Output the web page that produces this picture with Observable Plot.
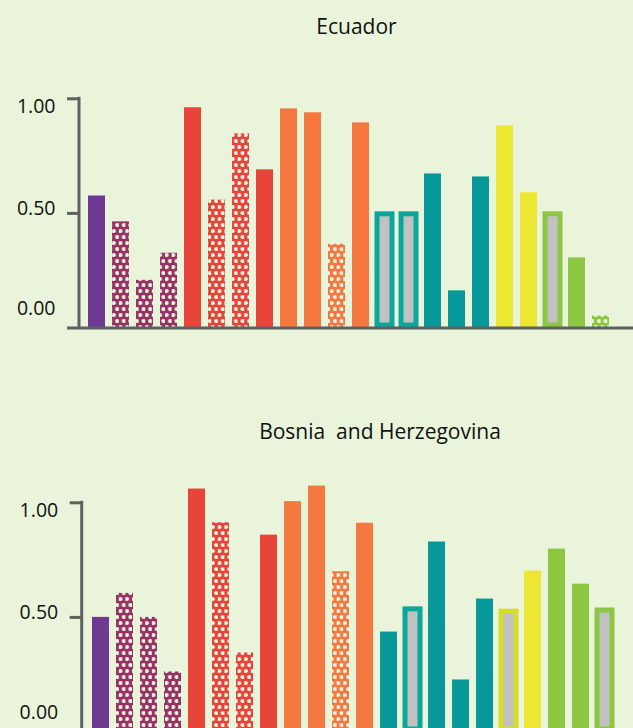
<!DOCTYPE html>
<html>
<head>
<meta charset="utf-8">
<script src="https://cdn.jsdelivr.net/npm/d3@7"></script>
<script src="https://cdn.jsdelivr.net/npm/@observablehq/plot@0.6"></script>
<style>
  html, body { margin: 0; padding: 0; background: #E9F4DA; overflow: hidden; }
  #wrap { position: relative; width: 633px; height: 728px; overflow: hidden; }
  .title { position: absolute; font-family: "Open Sans", sans-serif; font-size: 21px; line-height: 21px;
           color: #111; white-space: pre; transform: translateX(-50%); }
  .chart { position: absolute; left: 0; }
</style>
</head>
<body>
<svg width="0" height="0" style="position:absolute">
  <defs id="pattern-defs"></defs>
</svg>
<div id="wrap"></div>
<script>
// ---------------- data ----------------
const categories = ["1","2","3","4","5","6","7","8","9","10","11","12","13","14","15","16","17","18","19","20","21","22"];
const colorGroups = ["purple","maroon","maroon","maroon","red","red","red","red","orange","orange","orange","orange",
                     "teal","teal","teal","teal","teal","yellow","yellow","green","green","green"];
const countries = ["Ecuador", "Bosnia  and Herzegovina"];

const ecuadorValues = [0.576, 0.463, 0.208, 0.326, 0.961, 0.558, 0.847, 0.690, 0.956, 0.939, 0.365, 0.895,
                       0.507, 0.507, 0.672, 0.162, 0.659, 0.882, 0.590, 0.507, 0.306, 0.052];
const ecuadorKinds  = ["solid","dots","dots","dots","solid","dots","dots","solid","solid","solid","dots","solid",
                       "hollow","hollow","solid","solid","solid","solid","solid","hollow","solid","dots"];

const bosniaValues  = [0.500, 0.605, 0.500, 0.262, 1.060, 0.913, 0.345, 0.859, 1.005, 1.073, 0.699, 0.911,
                       0.436, 0.546, 0.829, 0.227, 0.580, 0.536, 0.702, 0.798, 0.645, 0.541];
const bosniaKinds   = ["solid","dots","dots","dots","solid","dots","dots","solid","solid","solid","dots","solid",
                       "solid","hollow","solid","solid","solid","hollow","solid","solid","solid","hollow"];

const yTicks = [0, 0.5, 1];
const yTickLabels = ["0.00", "0.50", "1.00"];

// ---------------- styles ----------------
const solidColor = {purple: "#6D3993", maroon: "#983264", red: "#E8443A", orange: "#F47840",
                    teal: "#07989A", yellow: "#ECE733", green: "#8DC641"};
const outlineColor = {teal: "#0AA79B", yellow: "#D5DD2B", green: "#8EC643"};
const axisColor = "#5F6062";
const dotColor = "#EDF5E0";

// patterns
const defs = document.getElementById("pattern-defs");
const NS = "http://www.w3.org/2000/svg";
for (const [g, c] of Object.entries(solidColor)) {
  const p = document.createElementNS(NS, "pattern");
  p.setAttribute("id", "dots-" + g);
  p.setAttribute("patternUnits", "userSpaceOnUse");
  p.setAttribute("width", 6.6);
  p.setAttribute("height", 12);
  const r = document.createElementNS(NS, "rect");
  r.setAttribute("width", 6.6); r.setAttribute("height", 12); r.setAttribute("fill", c);
  p.appendChild(r);
  for (const [cx, cy] of [[1.65, 3], [4.95, 9]]) {
    const ci = document.createElementNS(NS, "circle");
    ci.setAttribute("cx", cx); ci.setAttribute("cy", cy); ci.setAttribute("r", 2.05);
    ci.setAttribute("fill", dotColor);
    p.appendChild(ci);
  }
  defs.appendChild(p);
}

function axisLine(index, scales, values, dims) {
  const l = document.createElementNS(NS, "line");
  l.setAttribute("x1", dims.marginLeft);
  l.setAttribute("x2", dims.marginLeft);
  l.setAttribute("y1", scales.y(1) - 1.5);
  l.setAttribute("y2", scales.y(0));
  l.setAttribute("stroke", axisColor);
  l.setAttribute("stroke-width", 3);
  return l;
}

function drawChart(values, kinds, layout) {
  const data = categories.map((c, i) => ({cat: c, value: values[i], group: colorGroups[i], kind: kinds[i]}));
  const labelDy = [-19, -5, 7.5];
  return Plot.plot({
    width: 633,
    height: 360,
    marginLeft: layout.axisX,
    marginRight: 0,
    marginTop: 98.3,
    marginBottom: 32.5,
    style: {background: "transparent", overflow: "visible", fontFamily: "Open Sans", fontSize: "19.5px"},
    x: {domain: categories, range: layout.xRange, paddingInner: 0.3, paddingOuter: 0, axis: null},
    y: {domain: [0, 1], axis: null, label: null},
    color: {type: "identity"},
    marks: [
      Plot.barY(data.filter(d => d.kind === "solid"), {x: "cat", y: "value", fill: d => solidColor[d.group]}),
      Plot.barY(data.filter(d => d.kind === "dots"), {x: "cat", y: "value", fill: d => `url(#dots-${d.group})`}),
      Plot.barY(data.filter(d => d.kind === "hollow"), {
        x: "cat", y: "value", fill: "#C1C1C1", stroke: d => outlineColor[d.group], strokeWidth: 5,
        insetLeft: 1, insetRight: 1, insetTop: 2.5, insetBottom: 2.5
      }),
      Plot.ruleY([0], {stroke: axisColor, strokeWidth: 3}),
      axisLine,
      Plot.axisY(yTicks, {tickSize: 12, stroke: axisColor, strokeWidth: 3, tickFormat: () => "", label: null}),
      ...yTicks.map((t, i) => Plot.axisY([t], {
        tickSize: 0, tickPadding: 24, dy: labelDy[i], fill: "#111", label: null,
        fontSize: 19.5, fontFamily: "Open Sans", tickFormat: () => yTickLabels[i]
      }))
    ]
  });
}

const wrap = document.getElementById("wrap");
const layouts = [
  {top: 0, axisX: 79, xRange: [82.7, 613.9], titleX: 356.5, titleTop: 15.6},
  {top: 404.4, axisX: 81.7, xRange: [87, 617.5], titleX: 380, titleTop: 420.8}
];
const series = [[ecuadorValues, ecuadorKinds], [bosniaValues, bosniaKinds]];
countries.forEach((name, k) => {
  const L = layouts[k];
  const t = document.createElement("div");
  t.className = "title";
  t.textContent = name;
  t.style.left = L.titleX + "px";
  t.style.top = L.titleTop + "px";
  wrap.appendChild(t);
  const svg = drawChart(series[k][0], series[k][1], L);
  svg.classList.add("chart");
  svg.style.position = "absolute";
  svg.style.top = L.top + "px";
  svg.style.left = "0px";
  wrap.appendChild(svg);
});
</script>
</body>
</html>
